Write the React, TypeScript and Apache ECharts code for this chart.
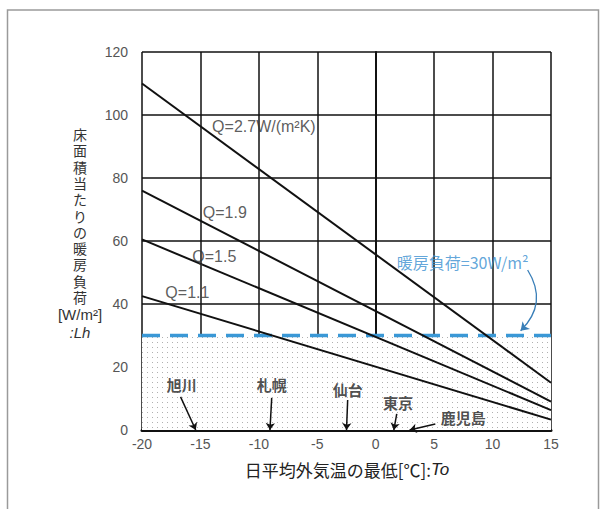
import React, { useEffect, useRef } from "react";
import * as echarts from "echarts";

const xEnds = [-20, 15];
const q27 = [110, 15];
const q19 = [76, 9];
const q15 = [60.5, 6.3];
const q11 = [42.5, 3.3];
const designLoad = 30;

const qLabels = ["Q=2.7W/(m²K)", "Q=1.9", "Q=1.5", "Q=1.1"];
const qLabelX = [-14.0, -14.8, -15.7, -18.0];
const qLabelY = [96.2, 68.9, 55.0, 43.5];

const cities = ["旭川", "札幌", "仙台", "東京", "鹿児島"];
const cityLabelX = [-16.6, -8.9, -2.4, 1.9, 7.5];
const cityLabelY = [14.3, 14.3, 12.7, 8.6, 4.1];
const arrowFromX = [-16.7, -8.9, -2.4, 1.8, 5.1];
const arrowFromY = [10.5, 10.2, 9.5, 5.1, 1.9];
const cityTempX = [-15.4, -9.05, -2.5, 1.55, 2.9];

const loadNote = "暖房負荷=30W/m²";
const loadNoteX = 1.8;
const loadNoteY = 53.3;
const noteArrowFrom = [13.0, 50.8];
const noteArrowTo = [12.4, 31.5];

const yTitleChars = ["床", "面", "積", "当", "た", "り", "の", "暖", "房", "負", "荷"];

function makeDots() {
  const c = document.createElement("canvas");
  c.width = 5;
  c.height = 5;
  const ctx = c.getContext("2d");
  if (ctx) {
    ctx.fillStyle = "#ffffff";
    ctx.fillRect(0, 0, 5, 5);
    ctx.fillStyle = "#b0b0b0";
    ctx.fillRect(2, 2, 1, 1);
  }
  return c;
}

export default function App() {
  const ref = useRef<HTMLDivElement>(null);
  useEffect(() => {
    if (!ref.current) return;
    const chart = echarts.init(ref.current, undefined, { renderer: "svg" });
    const font = "Liberation Sans, Arial, sans-serif";
    const jp = "'Noto Sans CJK JP', sans-serif";
    const mk = (v: number[]) => xEnds.map((x, i) => [x, v[i]]);
    const lineSeries = (name: string, v: number[]) => ({
      name,
      type: "line",
      data: mk(v),
      symbol: "none",
      lineStyle: { color: "#111", width: 2 },
      z: 5,
    });
    const yTitle = yTitleChars.map((ch, i) => ({
      type: "text",
      x: 80,
      y: 128 + i * 16.3,
      style: {
        text: ch,
        textAlign: "center",
        fill: "#333",
        font: "14px Liberation Sans, 'Noto Sans CJK JP', sans-serif",
      },
    }));
    chart.setOption({
      animation: false,
      backgroundColor: "#fff",
      grid: { left: 142, right: 52, top: 52, bottom: 79, containLabel: false },
      xAxis: {
        type: "value",
        min: -20,
        max: 15,
        interval: 5,
        axisLine: { show: true, onZero: false, lineStyle: { color: "#111", width: 3 } },
        axisTick: { show: false },
        splitLine: { show: true, lineStyle: { color: "#111", width: 1.5 } },
        axisLabel: { color: "#555", fontSize: 14, fontFamily: font, margin: 7 },
      },
      yAxis: {
        type: "value",
        min: 0,
        max: 120,
        interval: 20,
        axisLine: { show: true, lineStyle: { color: "#111", width: 2 } },
        axisTick: { show: false },
        splitLine: { show: true, lineStyle: { color: "#111", width: 1.5 } },
        axisLabel: { color: "#555", fontSize: 14, fontFamily: font, margin: 14 },
      },
      series: [
        {
          type: "line",
          data: xEnds.map((x) => [x, designLoad]),
          symbol: "none",
          lineStyle: { color: "#3a98d6", width: 3.5, type: [18, 10] },
          z: 4,
          markArea: {
            silent: true,
            itemStyle: { color: { image: makeDots(), repeat: "repeat" } },
            data: [[{ coord: [-20, 0] }, { coord: [15, designLoad] }]],
            z: 1,
          },
        },
        {
          type: "lines",
          coordinateSystem: "cartesian2d",
          symbol: ["none", "arrow"],
          symbolSize: 8,
          silent: true,
          z: 6,
          lineStyle: { color: "#3a7fb8", width: 1.3, curveness: 0.4, opacity: 1 },
          data: [{ coords: [noteArrowFrom, noteArrowTo] }],
        },
        lineSeries("Q27", q27),
        lineSeries("Q19", q19),
        lineSeries("Q15", q15),
        lineSeries("Q11", q11),
        {
          type: "scatter",
          symbolSize: 0,
          z: 6,
          data: qLabels.map((n, i) => ({ name: n, value: [qLabelX[i], qLabelY[i]] })),
          label: {
            show: true,
            position: "right",
            distance: 0,
            formatter: "{b}",
            color: "#333",
            fontSize: 16,
            fontFamily: font,
          },
        },
        {
          type: "scatter",
          symbolSize: 0,
          z: 6,
          data: [{ name: loadNote, value: [loadNoteX, loadNoteY] }],
          label: {
            show: true,
            position: "right",
            distance: 0,
            formatter: "{b}",
            color: "#3a8fd0",
            fontSize: 16,
            fontFamily: jp,
          },
        },
        {
          type: "scatter",
          symbolSize: 0,
          z: 6,
          data: cities.map((n, i) => ({ name: n, value: [cityLabelX[i], cityLabelY[i]] })),
          label: {
            show: true,
            position: "inside",
            formatter: "{b}",
            color: "#222",
            fontSize: 15,
            fontWeight: "bold",
            fontFamily: jp,
          },
          markLine: {
            silent: true,
            symbol: ["none", "arrow"],
            symbolSize: 7,
            label: { show: false },
            lineStyle: { color: "#111", width: 1.5, type: "solid" },
            data: cities.map((_, i) => [
              { coord: [arrowFromX[i], arrowFromY[i]] },
              { coord: [cityTempX[i], 0] },
            ]),
          },
        },
      ],
      graphic: [
        {
          type: "rect",
          shape: { x: 7.5, y: 10, width: 591, height: 520 },
          style: { fill: "none", stroke: "#9a9a9a", lineWidth: 1.5 },
          silent: true,
          z: 0,
        },
        ...yTitle,
        {
          type: "text",
          x: 80,
          y: 307,
          style: {
            text: "[W/m²]",
            textAlign: "center",
            fill: "#333",
            font: "15px Liberation Sans, Arial, sans-serif",
          },
        },
        {
          type: "text",
          x: 80,
          y: 325,
          style: {
            text: ":Lh",
            textAlign: "center",
            fill: "#333",
            font: "italic 15px Liberation Sans, Arial, sans-serif",
          },
        },
        {
          type: "text",
          x: 347,
          y: 461,
          style: {
            text: "{a|日平均外気温の最低[℃]:}{b|To}",
            textAlign: "center",
            rich: {
              a: { fontSize: 17, fontFamily: jp, fill: "#222" },
              b: { fontSize: 17, fontFamily: font, fontStyle: "italic", fill: "#222" },
            },
          },
        },
      ],
    });
    return () => chart.dispose();
  }, []);
  return (
    <div
      ref={ref}
      style={{ position: "fixed", left: 0, top: 0, width: 603, height: 509 }}
    />
  );
}
